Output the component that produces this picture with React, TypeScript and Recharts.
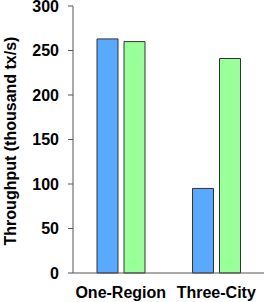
import { BarChart, Bar, XAxis, YAxis } from 'recharts';

const categories = ['One-Region', 'Three-City'];
const blueValues = [263, 95];
const greenValues = [260, 241];
const yTicks = [0, 50, 100, 150, 200, 250, 300];

const data = categories.map((name, i) => ({
  name,
  blue: blueValues[i],
  green: greenValues[i],
}));

const font = '"Liberation Sans", Arial, sans-serif';

const YLabel = () => (
  <text
    x={16}
    y={141}
    transform="rotate(-90, 16, 141)"
    textAnchor="middle"
    fontFamily={font}
    fontWeight="bold"
    fontSize={16}
    fill="#000"
  >
    Throughput (thousand tx/s)
  </text>
);

export default function App() {
  return (
    <div style={{ position: 'absolute', left: 0, top: 0, background: '#fff' }}>
      <BarChart
        width={265}
        height={302}
        data={data}
        margin={{ top: 6, right: 1, left: 0, bottom: 0 }}
        barCategoryGap={24}
        barGap={6}
      >
        <XAxis
          dataKey="name"
          height={29}
          tickLine={false}
          tickSize={0}
          tickMargin={14}
          stroke="#555"
          tick={{ fill: '#000', fontSize: 16, fontWeight: 'bold', fontFamily: font }}
        />
        <YAxis
          width={73}
          domain={[0, 300]}
          ticks={yTicks}
          interval={0}
          tickSize={5}
          tickMargin={9}
          stroke="#555"
          tick={{ fill: '#000', fontSize: 16, fontWeight: 'bold', fontFamily: font }}
          label={{ content: () => <YLabel /> }}
        />
        <Bar dataKey="blue" fill="#59aaff" stroke="#333" strokeWidth={1} barSize={21} isAnimationActive={false} />
        <Bar dataKey="green" fill="#99ff99" stroke="#333" strokeWidth={1} barSize={21} isAnimationActive={false} />
      </BarChart>
    </div>
  );
}
